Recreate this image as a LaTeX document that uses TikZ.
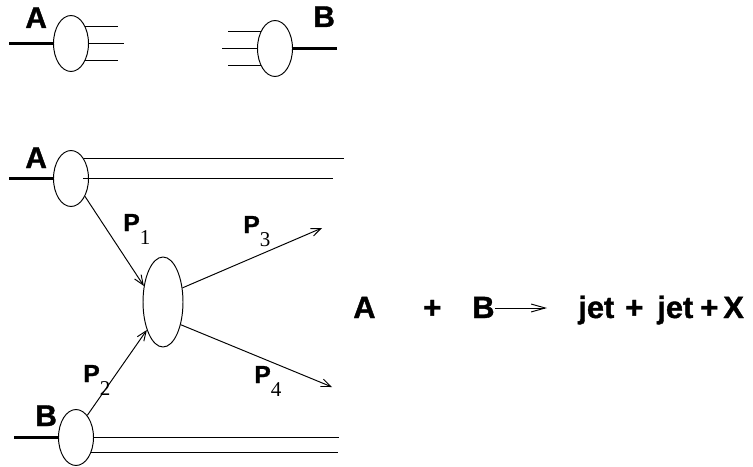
\documentclass[tikz,border=0pt]{standalone}
\usepackage{fontspec}
\setmainfont{Liberation Sans}[BoldFeatures={FakeBold=1.2}]
\newfontfamily\digitfont{Liberation Serif}
\usetikzlibrary{arrows.meta, calc, positioning, shapes.geometric}

% momentum label: bold P with a hanging serif index
\newcommand{\mom}[1]{{\fontsize{14}{14}\selectfont\bfseries P}\raisebox{-7.6pt}{\fontsize{12}{12}\selectfont\digitfont #1}}

\begin{document}
\begin{tikzpicture}[
    x=0.02cm, y=-0.02cm,
    blob/.style={ellipse, draw, line width=0.55pt, minimum width=0.7cm, minimum height=1.12cm, inner sep=0pt},
    hard/.style={ellipse, draw, line width=0.55pt, minimum width=0.8cm, minimum height=1.8cm, inner sep=0pt},
    beam/.style={line width=1.7pt},
    remnant/.style={line width=0.5pt},
    parton/.style={-{Straight Barb[length=5.5pt,width=4.5pt]}, line width=0.55pt},
    yields/.style={-{Straight Barb[length=8pt,width=4.5pt]}, line width=0.55pt},
    lbl/.style={font=\fontsize{17}{19}\selectfont\bfseries, inner sep=0pt, anchor=base west},
    mlbl/.style={font=\fontsize{12}{13}\selectfont, inner sep=0pt, anchor=base west},
    eq/.style={font=\fontsize{17.5}{20}\selectfont\bfseries, inner sep=0pt, anchor=base west}]
    \useasboundingbox (0,0) rectangle (753,466);

    % hadrons alone (top)
    \node[blob] (pdfA) at (71,43.5) {};
    \coordinate (inA) at (9,43.5);
    \draw[beam] (inA) -- (pdfA.west);
    \draw[remnant] (pdfA.50) -- ++(33,0);
    \draw[remnant] (pdfA.east) -- ++(35,0);
    \draw[remnant] (pdfA.-50) -- ++(33,0);
    \node[lbl] (labA) at (25,28) {A};

    \node[blob] (pdfB) at (275,48.5) {};
    \coordinate (inB) at (337,48.5);
    \draw[beam] (inB) -- (pdfB.east);
    \draw[remnant] (pdfB.130) -- ++(-33,0);
    \draw[remnant] (pdfB.west) -- ++(-35,0);
    \draw[remnant] (pdfB.-130) -- ++(-33,0);
    \node[lbl] (labB) at (313,27) {B};

    % collision (bottom left)
    \node[blob] (pA) at (71,178.5) {};
    \coordinate (inpA) at (9,178.5);
    \draw[beam] (inpA) -- (pA.west);
    \draw[remnant] (pA.58) -- ++(260,0);
    \draw[remnant] ($(pA.center)+(12,0)$) -- ++(250,0);
    \node[lbl] (labpA) at (25,168) {A};

    \node[blob] (pB) at (76,437.5) {};
    \coordinate (inpB) at (14,437.5);
    \draw[beam] (inpB) -- (pB.west);
    \draw[remnant] (pB.east) -- ++(245,0);
    \draw[remnant] (pB.-44) -- ++(247,0);
    \node[lbl] (labpB) at (35,426) {B};

    \node[hard] (hard) at (163,302) {};
    \coordinate (jetA) at (322,228);
    \coordinate (jetB) at (332,387);
    \draw[parton] (pA.-52) -- (hard.140);
    \draw[parton] (pB.63) -- (hard.-120);
    \draw[parton] (hard.36) -- (jetA);
    \draw[parton] (hard.-52) -- (jetB);
    \node[mlbl] (labP1) at (123,231) {\mom{1}};
    \node[mlbl] (labP2) at (83,382) {\mom{2}};
    \node[mlbl] (labP3) at (243,233) {\mom{3}};
    \node[mlbl] (labP4) at (254,383) {\mom{4}};

    % process (right)
    \node[eq] (eqA) at (353,318) {A};
    \node[eq] (eqplus) at (423,318) {+};
    \node[eq] (eqB) at (472,318) {B};
    \coordinate (eqto) at (547,308);
    \draw[yields] (eqB.east |- eqto) -- (eqto);
    \node[eq] (jet1) at (578,318) {jet};
    \node[eq] (jplus) at (625,318) {+};
    \node[eq] (jet2) at (657,318) {jet};
    \node[eq] (xplus) at (700,318) {+};
    \node[eq] (rest) at (723,318) {X};
\end{tikzpicture}
\end{document}
